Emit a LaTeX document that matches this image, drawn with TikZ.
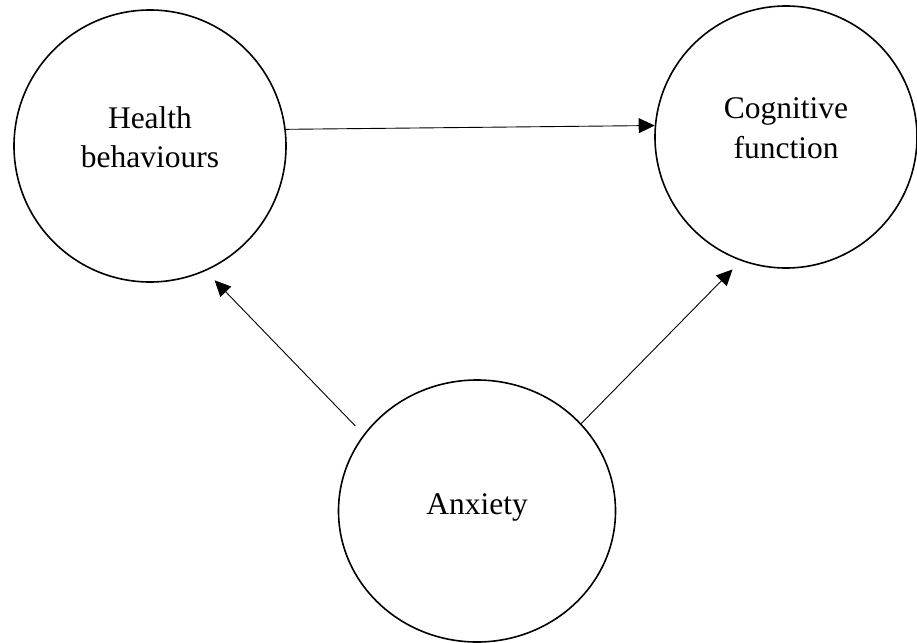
\documentclass[tikz,border=0pt]{standalone}
\usepackage{fontspec}
\setmainfont{Liberation Serif}
\usepackage{tikz}
\usetikzlibrary{positioning, arrows.meta, shapes.geometric}
\tikzset{
    bubble/.style  = {draw, circle, line width=1.6pt, inner sep=0pt},
    oval/.style    = {draw, ellipse, line width=1.6pt, inner sep=0pt},
    lbl/.style     = {align=center, font=\fontsize{31.5}{39.5}\selectfont, inner sep=0pt},
    arr/.style     = {-{Triangle[length=16pt, width=15pt]}, line width=0.9pt},
}

\begin{document}
\begin{tikzpicture}[x=1pt, y=-1pt]
\useasboundingbox (0,0) rectangle (917,642);

\node[bubble, minimum size=272pt,
      label={[lbl, yshift=9pt]center:{Health\\behaviours}}] (hb) at (150,146) {};
\node[bubble, minimum size=262pt,
      label={[lbl, yshift=9pt]center:{Cognitive\\function}}] (cf) at (786,137) {};
\node[oval, minimum width=277pt, minimum height=262pt,
      label={[lbl, yshift=4pt]center:{Anxiety}}] (anx) at (477,511) {};

\draw[arr] (hb.7) -- (cf.175);
\draw[arr, shorten <=12pt, shorten >=13pt] (anx.146) -- (hb.-66);
\draw[arr, shorten >=12pt] (anx.40) -- (cf.-110);

\end{tikzpicture}
\end{document}
